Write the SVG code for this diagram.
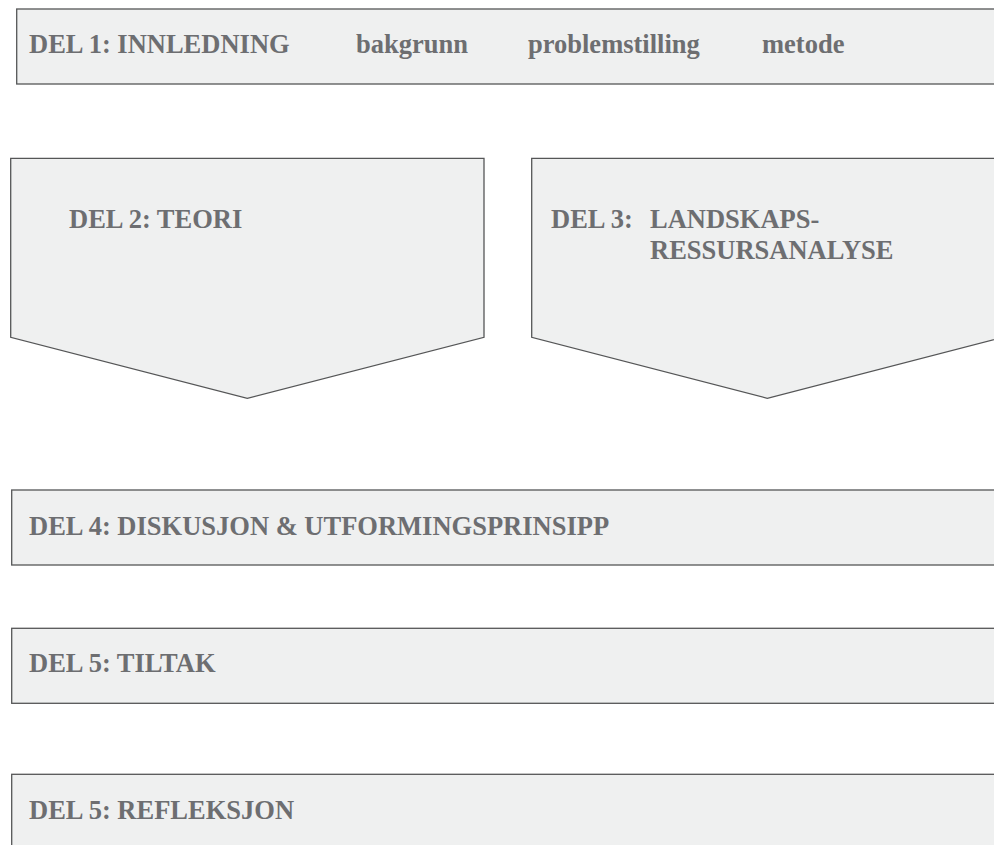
<svg xmlns="http://www.w3.org/2000/svg" width="994" height="845" viewBox="0 0 994 845">
<style>
.box{fill:#eff0f0;stroke:#555657;stroke-width:1.3}
.t{font-family:"Liberation Serif","Times New Roman",serif;font-weight:bold;font-size:26.5px;fill:#6d6e71}
</style>
<rect width="994" height="845" fill="#ffffff"/>
<g id="del1">
<rect class="box" x="16.7" y="9" width="990" height="75"/>
<text class="t" x="29" y="53">DEL 1: INNLEDNING</text>
<text class="t" x="356" y="53">bakgrunn</text>
<text class="t" x="528" y="53">problemstilling</text>
<text class="t" x="762" y="53">metode</text>
</g>
<g id="del2">
<polygon class="box" points="10.7,158.3 484,158.3 484,337.3 247.3,398.3 10.7,337.3"/>
<text class="t" x="69" y="228">DEL 2: TEORI</text>
</g>
<g id="del3">
<polygon class="box" points="531.7,158.3 1003,158.3 1003,337.3 767.3,398.3 531.7,337.3"/>
<text class="t" x="551" y="227.5">DEL 3:</text>
<text class="t" x="650" y="227.5">LANDSKAPS-</text>
<text class="t" x="650" y="259">RESSURSANALYSE</text>
</g>
<g id="del4">
<rect class="box" x="11.7" y="490" width="990" height="75"/>
<text class="t" x="29" y="535">DEL 4: DISKUSJON &amp; UTFORMINGSPRINSIPP</text>
</g>
<g id="del5">
<rect class="box" x="11.7" y="628.3" width="990" height="75"/>
<text class="t" x="29" y="672">DEL 5: TILTAK</text>
</g>
<g id="del6">
<rect class="box" x="11.7" y="774.3" width="990" height="90"/>
<text class="t" x="29" y="819">DEL 5: REFLEKSJON</text>
</g>
<g id="connectors"/>
</svg>
